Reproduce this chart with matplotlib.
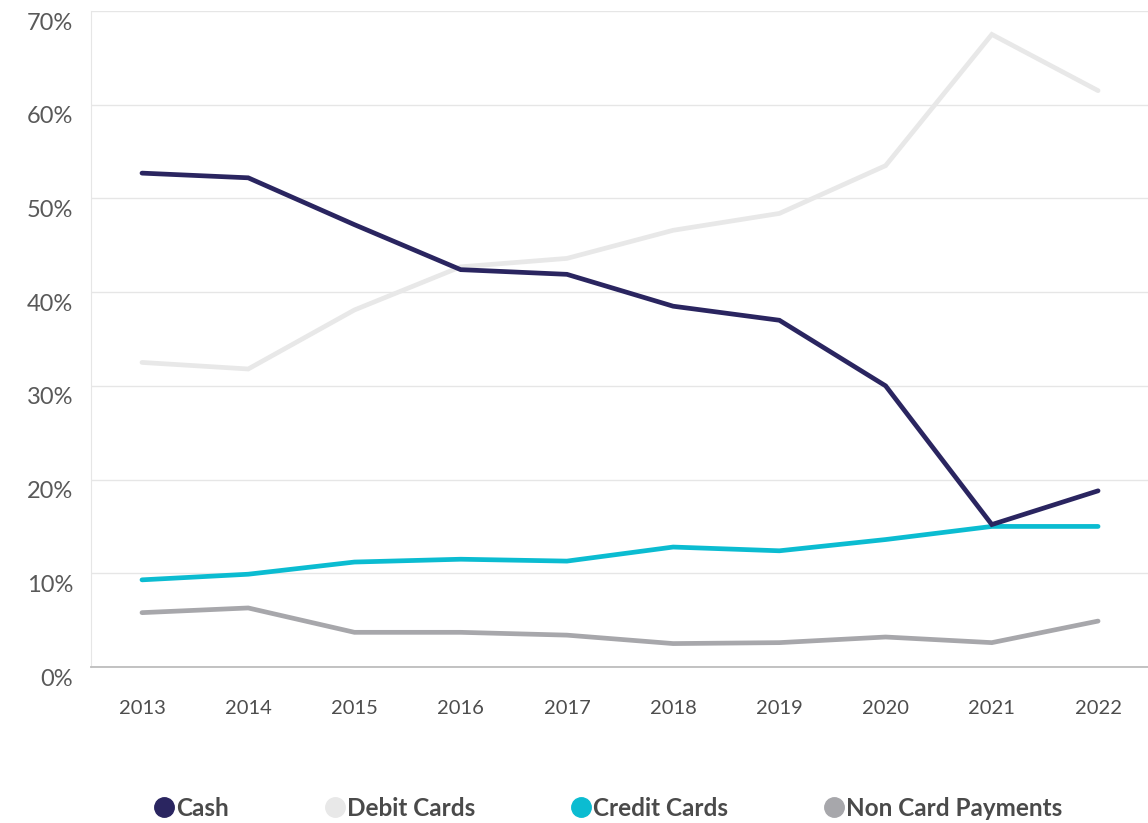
import matplotlib.pyplot as plt
import matplotlib.transforms as mtransforms
from matplotlib.lines import Line2D

plt.rcParams['font.family'] = ['Lato', 'DejaVu Sans']

years = [2013, 2014, 2015, 2016, 2017, 2018, 2019, 2020, 2021, 2022]
cash = [52.7, 52.2, 47.2, 42.4, 41.9, 38.5, 37.0, 30.0, 15.2, 18.8]
debit = [32.5, 31.8, 38.1, 42.7, 43.6, 46.6, 48.4, 53.5, 67.5, 61.5]
credit = [9.3, 9.9, 11.2, 11.5, 11.3, 12.8, 12.4, 13.6, 15.0, 15.0]
non_card = [5.8, 6.3, 3.7, 3.7, 3.4, 2.5, 2.6, 3.2, 2.6, 4.9]

series_names = ['Cash', 'Debit Cards', 'Credit Cards', 'Non Card Payments']
colors = ['#2a2560', '#e8e8e8', '#0bbcd1', '#a7a7ab']

fig = plt.figure(figsize=(11.48, 8.23), dpi=100)
ax = fig.add_axes([91 / 1148, (823 - 667) / 823, 1 - 91 / 1148, (667 - 11) / 823])

# lighter lines first so the dark ones sit on top
for vals, c, z in zip([debit, non_card, credit, cash], [colors[1], colors[3], colors[2], colors[0]], [2, 3, 4, 5]):
    ax.plot(years, vals, color=c, lw=3.4, solid_capstyle='round', solid_joinstyle='miter', zorder=z)

ax.set_xlim(2012.52, 2022.47)
ax.set_ylim(0, 70)
ax.set_yticks(range(0, 71, 10))
ax.set_yticklabels([f'{v}%' for v in range(0, 71, 10)])
ax.set_xticks(years)
ax.set_xticklabels([str(y) for y in years])

ax.grid(axis='y', color='#e6e6e6', lw=1)
ax.set_axisbelow(True)
for s in ['top', 'right']:
    ax.spines[s].set_visible(False)
ax.spines['left'].set_color('#e6e6e6')
ax.spines['bottom'].set_color('#bdbdbd')
ax.spines['bottom'].set_linewidth(1.3)

ax.tick_params(axis='both', length=0)
ax.tick_params(axis='y', labelsize=17, labelcolor='#595959', pad=13)
ax.tick_params(axis='x', labelsize=14.5, labelcolor='#4d4d4d', pad=24)

offset = mtransforms.ScaledTranslation(0, -10 / 100, fig.dpi_scale_trans)
for lab in ax.get_yticklabels():
    lab.set_transform(lab.get_transform() + offset)

handles = [Line2D([], [], ls='none', marker='o', markersize=14, color=c) for c in colors]
fig.legend(handles, series_names, loc='center', bbox_to_anchor=(0.529, 0.018), ncol=4,
           frameon=False, handletextpad=0.0, columnspacing=3.85, handlelength=1.0,
           prop={'size': 17.5, 'weight': 'bold'}, labelcolor='#4a4a4a')

fig.savefig('out.png', dpi=100)
